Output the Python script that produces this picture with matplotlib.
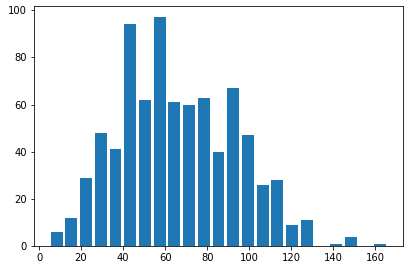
import matplotlib
matplotlib.use("Agg")
import matplotlib.pyplot as plt

# bin centres (bin width 7) and counts
centers = [8.4, 15.4, 22.4, 29.4, 36.4, 43.4, 50.4, 57.4, 64.4, 71.4, 78.4, 85.4,
           92.4, 99.4, 106.4, 113.4, 120.4, 127.4, 134.4, 141.4, 148.4, 155.4, 162.4]
counts = [6, 12, 29, 48, 41, 94, 62, 97, 61, 60, 63, 40,
          67, 47, 26, 28, 9, 11, 0, 1, 4, 0, 1]

fig = plt.figure(figsize=(412 / 72, 272 / 72), dpi=72)
ax = fig.add_axes([34 / 412, 26 / 272, 369 / 412, 240 / 272])
ax.bar(centers, counts, width=5.6, color="#1f77b4")
ax.set_xticks([0, 20, 40, 60, 80, 100, 120, 140, 160])
ax.set_yticks([0, 20, 40, 60, 80, 100])
ax.tick_params(labelsize=10)

fig.savefig("out.png", dpi=72)
